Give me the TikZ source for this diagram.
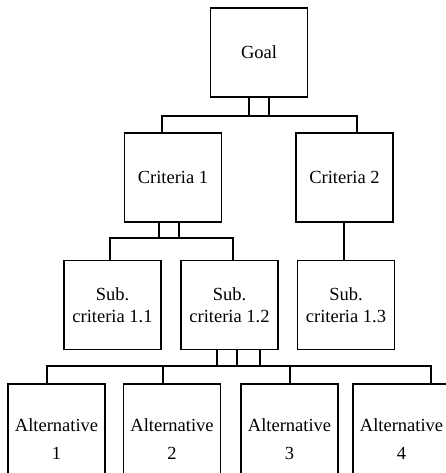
\documentclass[tikz,border=0pt]{standalone}
\usepackage{fontspec}
\setmainfont{Liberation Serif}
\usepackage{tikz}
\usetikzlibrary{positioning}

\tikzset{
  box/.style={draw, line width=1.3pt, minimum width=97pt, minimum height=89pt,
    align=center, inner sep=0pt, font=\fontsize{18.5}{22}\selectfont},
  altbox/.style={box, minimum height=110pt, font=\fontsize{18.5}{28}\selectfont},
  link/.style={line width=1.3pt}
}

\begin{document}
\begin{tikzpicture}[x=1pt,y=-1pt]
        \useasboundingbox (0,0) rectangle (446,473);
        \clip (0,0) rectangle (446,473);
        % levels of the hierarchy
        \node[box] (goal) at (259,52.5) {Goal};
        \node[box] (crit1) at (173,177.5) {Criteria 1};
        \node[box] (crit2) at (344.5,177.5) {Criteria 2};
        \node[box] (sub1) at (112.5,305) {Sub.\\criteria 1.1};
        \node[box] (sub2) at (229.5,305) {Sub.\\criteria 1.2};
        \node[box] (sub3) at (346,305) {Sub.\\criteria 1.3};
        \node[altbox] (alt1) at (56.5,439) {Alternative\\1};
        \node[altbox] (alt2) at (172,439) {Alternative\\2};
        \node[altbox] (alt3) at (289.5,439) {Alternative\\3};
        \node[altbox] (alt4) at (401.5,439) {Alternative\\4};
        % bus bars
        \coordinate (busAl) at (162,116);
        \coordinate (busAr) at (357,116);
        \coordinate (busBl) at (110,238);
        \coordinate (busBr) at (233,238);
        \coordinate (busCl) at (47,366);
        \coordinate (busCr) at (431,366);
        % goal -> criteria
        \foreach \x in {249,269}
            \draw[link] (goal.south -| \x,0) -- (busAl -| \x,0);
        \draw[link] (crit1.north -| busAl) -- (busAl) -- (busAr) -- (crit2.north -| busAr);
        % criteria 1 -> sub criteria
        \foreach \x in {159,179}
            \draw[link] (crit1.south -| \x,0) -- (busBl -| \x,0);
        \draw[link] (sub1.north -| busBl) -- (busBl) -- (busBr) -- (sub2.north -| busBr);
        \draw[link] (crit2.south -| 344,0) -- (sub3.north -| 344,0);
        % sub criteria 1.2 -> alternatives
        \foreach \x in {217,237,260}
            \draw[link] (sub2.south -| \x,0) -- (busCl -| \x,0);
        \draw[link] (alt1.north -| busCl) -- (busCl) -- (busCr) -- (alt4.north -| busCr);
        \draw[link] (busCl -| 163,0) -- (alt2.north -| 163,0);
        \draw[link] (busCl -| 290,0) -- (alt3.north -| 290,0);
\end{tikzpicture}
\end{document}
